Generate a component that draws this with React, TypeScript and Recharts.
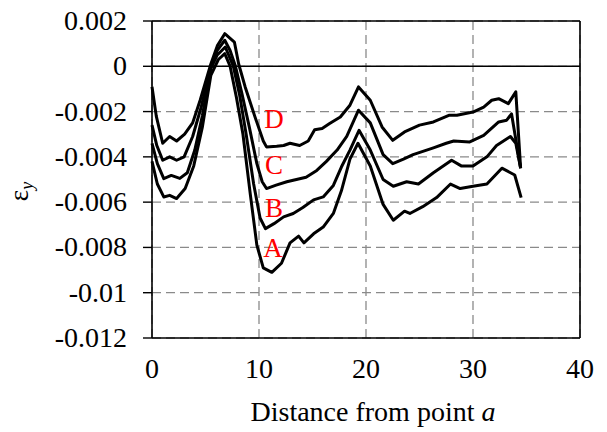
import React from 'react';
import { LineChart, Line, XAxis, YAxis, CartesianGrid, ReferenceLine, ReferenceDot } from 'recharts';

// Axis ticks
const xTicks = [0, 10, 20, 30, 40];
const yTicks = [0.002, 0, -0.002, -0.004, -0.006, -0.008, -0.01, -0.012];

// Strain profiles along the distance from point a: [distance, strain]
const curveD: [number, number][] = [
  [0, -0.0009], [0.4, -0.0022], [1.0, -0.0034], [1.65, -0.0031], [2.3, -0.0033], [3.05, -0.003],
  [3.8, -0.0025], [4.5, -0.0015], [5.5, 0.0001], [6.1, 0.0009], [6.8, 0.00144], [7.7, 0.00107],
  [8.1, 0.0001], [8.7, -0.0009], [9.6, -0.0022], [10.4, -0.0033], [10.7, -0.00356], [11.65, -0.00353],
  [12.3, -0.0035], [12.9, -0.0034], [13.8, -0.0035], [14.6, -0.0033], [15.2, -0.0028], [15.9, -0.00275],
  [16.6, -0.00253], [17.6, -0.00224], [18.5, -0.00172], [19.3, -0.00091], [20.4, -0.0015], [21.5, -0.00268],
  [22.5, -0.00327], [23.6, -0.0029], [25.0, -0.0026], [26.3, -0.00246], [27.8, -0.00216], [28.5, -0.00216],
  [30.0, -0.00202], [31.0, -0.0018], [31.75, -0.0015], [32.4, -0.00143], [33.3, -0.00165], [34.0, -0.00113],
  [34.45, -0.0045],
];

const curveC: [number, number][] = [
  [0, -0.0026], [0.45, -0.0035], [1.0, -0.00415], [1.65, -0.004], [2.3, -0.00415], [3.0, -0.004],
  [3.8, -0.0031], [4.6, -0.0018], [5.5, 0.0], [6.1, 0.0007], [6.8, 0.00115], [7.3, 0.0007],
  [7.8, 0.0], [8.4, -0.0012], [9.1, -0.0027], [9.8, -0.0043], [10.3, -0.0051], [10.7, -0.0054],
  [11.6, -0.00525], [12.6, -0.0051], [13.5, -0.005], [14.4, -0.0049], [15.4, -0.0046], [16.3, -0.0042],
  [17.3, -0.0037], [18.2, -0.0031], [19.3, -0.00194], [20.4, -0.0025], [21.6, -0.0039], [22.5, -0.0043],
  [23.5, -0.0041], [24.4, -0.0039], [26.3, -0.0036], [27.5, -0.0034], [28.2, -0.0033], [29.7, -0.00334],
  [31.0, -0.00305], [32.4, -0.00246], [33.15, -0.00238], [33.6, -0.0021], [34.45, -0.0045],
];

const curveB: [number, number][] = [
  [0, -0.0034], [0.5, -0.0043], [1.1, -0.00496], [1.8, -0.00482], [2.6, -0.00495], [3.3, -0.0047],
  [4.0, -0.0037], [4.7, -0.0022], [5.5, -0.0001], [6.1, 0.0005], [6.85, 0.00085], [7.6, 0.0],
  [8.2, -0.0013], [8.8, -0.003], [9.5, -0.0052], [10.1, -0.0067], [10.6, -0.00717], [11.4, -0.00695],
  [12.3, -0.00665], [13.2, -0.0065], [14.1, -0.00624], [15.1, -0.0059], [16.0, -0.00577], [16.95, -0.00526],
  [17.7, -0.00445], [18.5, -0.0037], [19.35, -0.00283], [20.4, -0.0037], [21.6, -0.005], [22.55, -0.0053],
  [23.8, -0.0051], [24.9, -0.0052], [26.3, -0.0047], [28.0, -0.00415], [28.9, -0.0044], [30.0, -0.0044],
  [31.3, -0.004], [32.2, -0.0035], [33.5, -0.0031], [34.0, -0.0034], [34.45, -0.0045],
];

const curveA: [number, number][] = [
  [0, -0.0042], [0.5, -0.0052], [1.1, -0.00577], [1.65, -0.0057], [2.3, -0.00584], [3.1, -0.0054],
  [3.9, -0.0044], [4.7, -0.0027], [5.5, -0.0004], [6.2, 0.0003], [6.8, 0.00056], [7.3, 0.0],
  [7.9, -0.0014], [8.5, -0.003], [9.2, -0.0057], [9.8, -0.0079], [10.4, -0.0089], [11.2, -0.0091],
  [12.1, -0.0087], [12.9, -0.0078], [13.7, -0.0075], [14.2, -0.0078], [15.1, -0.0074], [16.0, -0.0071],
  [16.95, -0.0065], [17.7, -0.0055], [18.5, -0.0041], [19.25, -0.0034], [20.4, -0.0044], [21.6, -0.0061],
  [22.55, -0.0068], [23.6, -0.0064], [24.1, -0.0065], [25.3, -0.0062], [26.6, -0.0058], [27.9, -0.0052],
  [28.8, -0.0054], [30.0, -0.0053], [31.3, -0.0052], [32.7, -0.0045], [33.5, -0.0047], [33.9, -0.0048],
  [34.5, -0.0058],
];

// Curve tags placed next to each profile
const tagNames = ['D', 'C', 'B', 'A'];
const tagX = [11.4, 11.4, 11.4, 11.3];
const tagY = [-0.00232, -0.00437, -0.00625, -0.00804];

const serif = "'Liberation Serif', 'Times New Roman', serif";
const fontStyle = (size: number): React.CSSProperties => ({ fontFamily: serif, fontSize: size });
const toPoints = (arr: [number, number][]) => arr.map(([d, e]) => ({ d, e }));
const series = [curveA, curveB, curveC, curveD];

const fmtY = (v: number) => (Math.abs(v) < 1e-12 ? '0' : String(Number(v.toFixed(3))));

const renderXTick = (props: any) => {
  const { x, y, payload } = props;
  return (
    <text x={x} y={y + 32} textAnchor="middle" style={fontStyle(28)} fill="#000">
      {String(payload.value)}
    </text>
  );
};

const renderYTick = (props: any) => {
  const { x, y, payload } = props;
  return (
    <text x={x} y={y + 9} textAnchor="end" style={fontStyle(28)} fill="#000">
      {fmtY(payload.value)}
    </text>
  );
};

const XTitle = (props: any) => {
  const vb = props.viewBox || { x: 0, y: 0, width: 0, height: 0 };
  return (
    <text x={vb.x + vb.width / 2 + 7} y={vb.y + 83} textAnchor="middle" style={fontStyle(28)} fill="#000">
      Distance from point <tspan style={{ fontStyle: 'italic' }}>a</tspan>
    </text>
  );
};

const YTitle = (props: any) => {
  const vb = props.viewBox || { x: 0, y: 0, width: 0, height: 0 };
  const cx = 28;
  const cy = vb.y + vb.height / 2 + 12;
  return (
    <text x={cx} y={cy} transform={`rotate(-90 ${cx} ${cy})`} textAnchor="middle" style={fontStyle(27)} fill="#000">
      ε<tspan style={{ fontSize: 18, fontStyle: 'italic' }} dy={5}>y</tspan>
    </text>
  );
};

const TagLabel = (text: string) => (props: any) => {
  const vb = props.viewBox || { x: 0, y: 0 };
  const cx = vb.x + (vb.width || 0) / 2;
  const cy = vb.y + (vb.height || 0) / 2;
  return (
    <text x={cx} y={cy + 9} textAnchor="middle" style={fontStyle(27)} fill="#ff0000">
      {text}
    </text>
  );
};

export default function App() {
  return (
    <div style={{ position: 'absolute', left: 0, top: 0, width: 607, height: 432, background: '#fff' }}>
      <LineChart width={607} height={432} margin={{ top: 21, right: 27, bottom: 0, left: 0 }}>
        <CartesianGrid stroke="#8a8a8a" strokeDasharray="9 5" strokeWidth={1.3} />
        <XAxis
          dataKey="d"
          type="number"
          domain={[0, 40]}
          ticks={xTicks}
          allowDuplicatedCategory={false}
          height={94}
          tickLine={false}
          axisLine={{ stroke: '#000', strokeWidth: 1.6 }}
          tick={renderXTick}
          label={<XTitle />}
        />
        <YAxis
          type="number"
          domain={[-0.012, 0.002]}
          ticks={yTicks}
          width={152}
          interval={0}
          tickSize={9}
          tickMargin={16}
          tickLine={{ stroke: '#000', strokeWidth: 1.4 }}
          axisLine={{ stroke: '#000', strokeWidth: 1.6 }}
          tick={renderYTick}
          label={<YTitle />}
        />
        <ReferenceLine y={0.002} stroke="#000" strokeWidth={1.6} />
        <ReferenceLine x={40} stroke="#000" strokeWidth={1.6} />
        <ReferenceLine y={0} stroke="#000" strokeWidth={1.6} />
        {series.map((s, i) => (
          <Line
            key={i}
            data={toPoints(s)}
            dataKey="e"
            type="linear"
            stroke="#000"
            strokeWidth={3}
            strokeLinejoin="round"
            dot={false}
            activeDot={false}
            isAnimationActive={false}
          />
        ))}
        {tagNames.map((t, i) => (
          <ReferenceDot
            key={t}
            x={tagX[i]}
            y={tagY[i]}
            r={0}
            fill="none"
            stroke="none"
            label={TagLabel(t)}
          />
        ))}
      </LineChart>
    </div>
  );
}
